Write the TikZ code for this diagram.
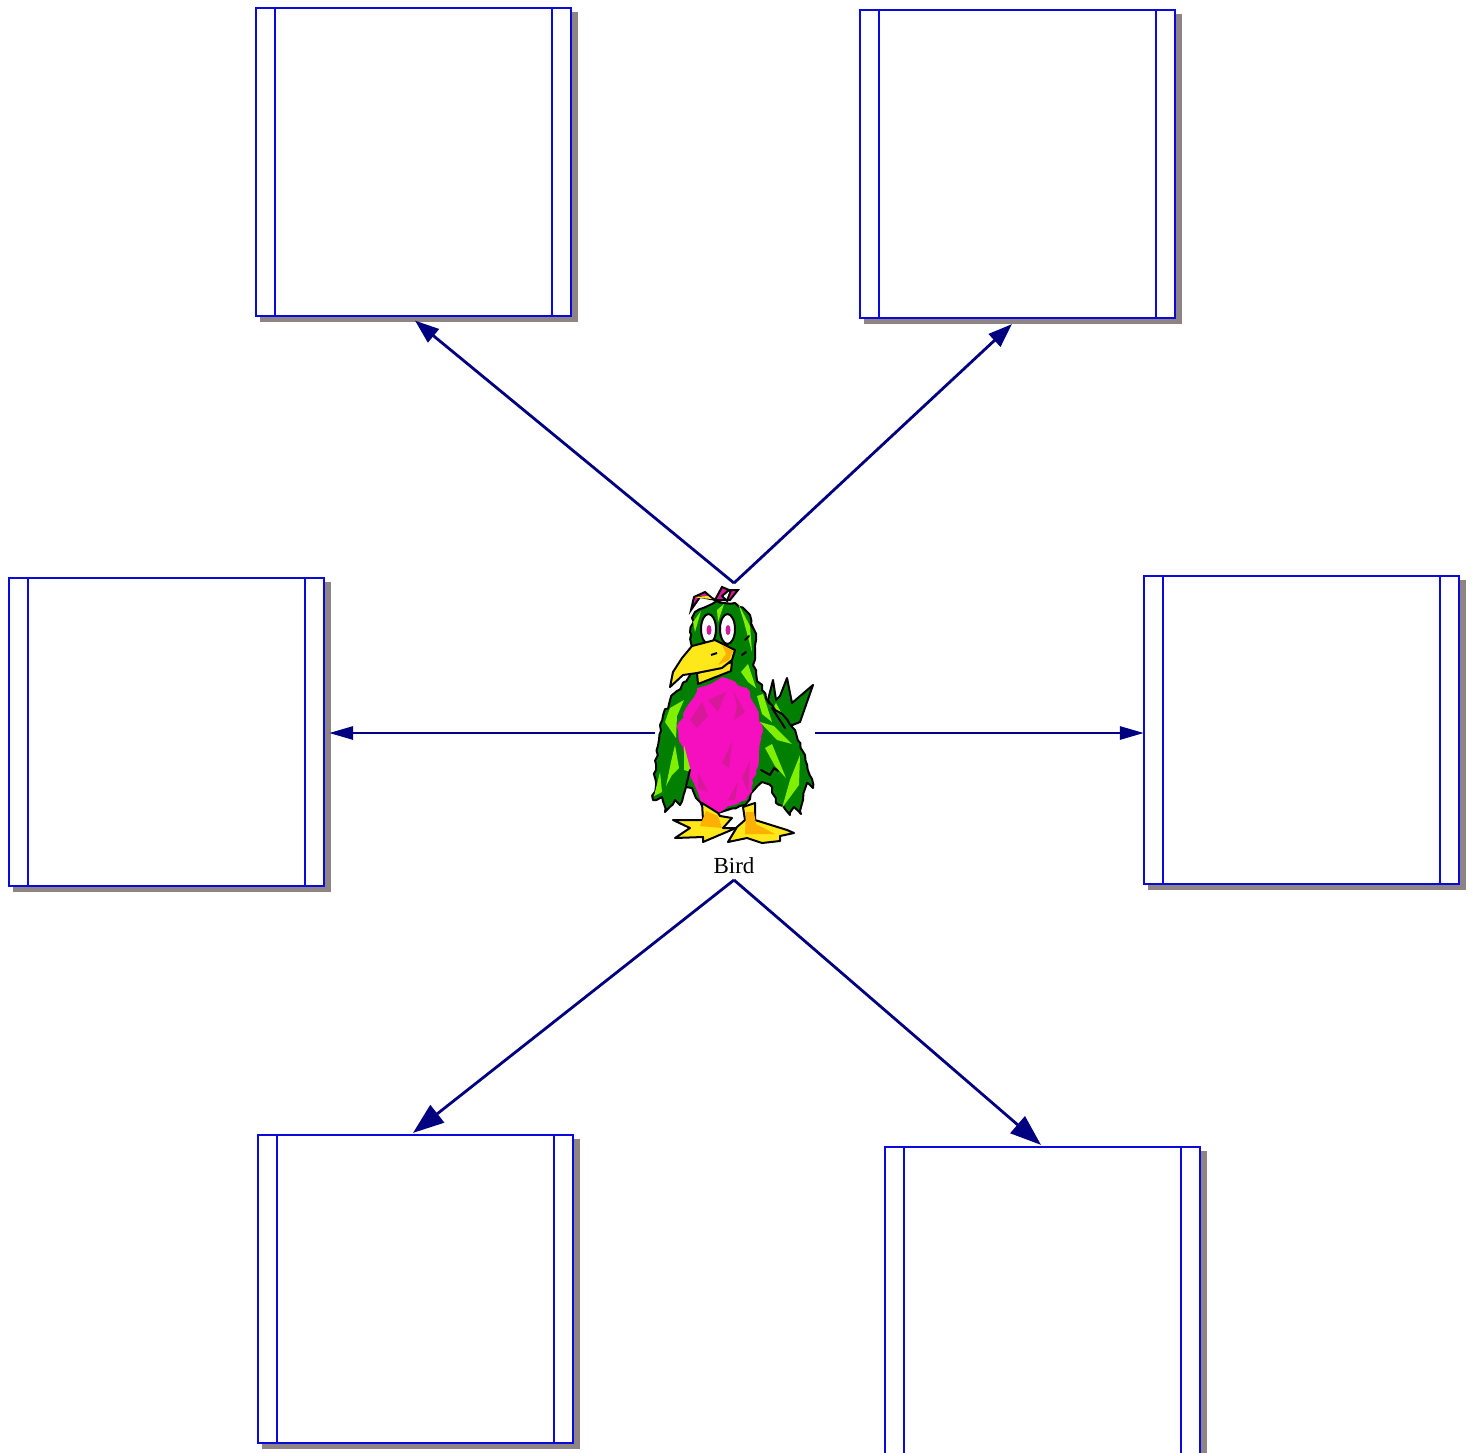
\documentclass[tikz,border=0pt]{standalone}
\usepackage{fontspec}
\setmainfont{Liberation Serif}
\usetikzlibrary{arrows.meta,shadows,decorations.pathmorphing}
\definecolor{boxblue}{HTML}{0A0ADC}
\definecolor{navyline}{HTML}{000080}
\definecolor{shadowgray}{HTML}{8E8484}
\definecolor{birdgreen}{HTML}{007F00}
\definecolor{birdlime}{HTML}{80F000}
\definecolor{birdpink}{HTML}{F50FBF}
\definecolor{birddeep}{HTML}{D8189A}
\definecolor{birdyellow}{HTML}{FFE81A}
\definecolor{birdorange}{HTML}{FFB000}
\tikzset{
  x=.5pt,y=-.5pt,
  framebox/.style={draw=boxblue,fill=white,line width=1.1pt,inner sep=0pt,minimum width=157.5pt,minimum height=154pt,
    copy shadow={shadow xshift=2.75pt,shadow yshift=-2.5pt,fill=shadowgray,draw=shadowgray,opacity=1}},
  smalltip/.style={-{Triangle[length=12pt,width=8.5pt]}},
  sidetip/.style={-{Triangle[length=12pt,width=6.5pt]}},
  bigtip/.style={-{Triangle[length=15.5pt,width=11pt]}},
  link/.style={draw=navyline,line width=1.4pt,line join=miter},
  fur/.style={decorate,decoration={random steps,segment length=2.5pt,amplitude=.9pt}},
  birdline/.style={draw=black,line width=1pt,line join=round},
  inner/.style={draw=boxblue,line width=1.1pt},
  ink/.style={draw=black,line width=1pt,line cap=round},
}
\begin{document}
\begin{tikzpicture}
\useasboundingbox (0,0) rectangle (1473,1452);
\clip (0,0) rectangle (1473,1452);
% boxes
\node[framebox] (a) at (413.5,162) {};
\node[framebox] (b) at (1017.5,164) {};
\node[framebox] (c) at (166.5,732) {};
\node[framebox] (d) at (1301.5,730) {};
\node[framebox] (e) at (415.5,1289) {};
\node[framebox] (f) at (1042.5,1301) {};
\foreach \n in {a,b,c,d,e,f}{
  \draw[inner] ([xshift=10pt]\n.north west) -- ([xshift=10pt]\n.south west);
  \draw[inner] ([xshift=-10pt]\n.north east) -- ([xshift=-10pt]\n.south east);
}
% connector ends
\coordinate (birdtop) at (734,583);
\coordinate (birdleft) at (655,733);
\coordinate (birdright) at (815,733);
\coordinate (birdbottom) at (734,880);
\draw[link,smalltip] (birdtop) -- ([shift={(1.5,3.5)}]a.south);
\draw[link,smalltip] (birdtop) -- ([shift={(-5.5,5)}]b.south);
\draw[link,sidetip] (birdleft) -- ([shift={(4,1)}]c.east);
\draw[link,sidetip] (birdright) -- ([shift={(1,3)}]d.west);
\draw[link,bigtip] (birdbottom) -- ([shift={(-2.5,-1)}]e.north);
\draw[link,bigtip] (birdbottom) -- ([shift={(-1.5,-1)}]f.north);
% tail
\path[birdline,fill=birdgreen] (768,700) -- (773,680) -- (776,700) -- (780,696) -- (787,678) -- (792,703) -- (813,685) -- (800,722) -- (785,728) -- cycle;
\fill[birdlime] (771,712) -- (776,703) -- (783,716) -- cycle;
% silhouette: head, wings
\path[birdline,fill=birdgreen,fur] (717,601) -- (735,603) -- (750,615) -- (756,640) -- (753,665) -- (762,690) -- (772,705) -- (795,730) -- (805,755) -- (813,788) -- (807,783) -- (803,800) -- (801,814) -- (794,807) -- (790,815) -- (783,806) -- (776,803) -- (772,787) -- (762,782) -- (754,790) -- (745,805) -- (717,813) -- (702,806) -- (692,788) -- (686,787) -- (680,805) -- (675,800) -- (665,812) -- (662,797) -- (653,800) -- (656,770) -- (660,725) -- (670,700) -- (690,675) -- (692,650) -- (690,632) -- (695,612) -- cycle;
% pink belly
\path[fill=birdpink,fur] (697,688) -- (722,677) -- (747,688) -- (762,725) -- (759,760) -- (753,783) -- (747,800) -- (717,813) -- (700,800) -- (692,780) -- (683,750) -- (677,727) -- cycle;
\fill[birddeep]
  (690,720) -- (702,702) -- (708,716) -- (697,728) -- cycle
  (733,690) -- (745,712) -- (734,720) -- (737,706) -- cycle
  (722,763) -- (732,742) -- (729,768) -- cycle
  (708,700) -- (726,692) -- (718,712) -- cycle
  (742,778) -- (750,760) -- (748,792) -- cycle
  (698,772) -- (708,792) -- (698,788) -- cycle
  (728,800) -- (738,782) -- (735,800) -- cycle;
% lime highlights
\fill[birdlime]
  (665,722) -- (670,708) -- (684,700) -- (677,716) -- (676,738) -- cycle
  (666,786) -- (671,762) -- (675,745) -- (679,768) -- (672,775) -- cycle
  (684,745) -- (691,772) -- (684,770) -- cycle
  (654,796) -- (660,772) -- (662,792) -- cycle
  (765,748) -- (772,744) -- (786,778) -- (775,766) -- cycle
  (782,808) -- (790,780) -- (800,755) -- (799,785) -- cycle
  (760,722) -- (774,726) -- (792,744) -- (777,740) -- cycle
  (738,603) -- (750,626) -- (752,652) -- (744,622) -- cycle
  (717,610) -- (724,604) -- (718,622) -- cycle
  (693,622) -- (701,611) -- (695,632) -- cycle
  (741,672) -- (748,664) -- (756,688) -- (748,682) -- cycle
  (757,696) -- (763,694) -- (772,722) -- (762,714) -- cycle;
% dark detail strokes
\draw[ink] (745,640) -- (749,636) (751,625) -- (753,628) (742,655) -- (746,652);
\draw[ink] (761,770) -- (770,775) -- (774,768) -- (778,771);
\draw[ink] (686,786) -- (690,770);
\draw[ink] (772,708) -- (785,728);
% crest
\path[draw=black,line width=1pt,fill=birddeep] (691,610) -- (694,597) -- (705,592) -- (712,598) -- (716,600) -- (700,597) -- cycle;
\fill[birdyellow] (695,597) -- (708,596) -- (712,599) -- (699,598) -- cycle;
\path[draw=black,line width=1pt,fill=birddeep] (715,600) -- (722,587) -- (729,590) -- (722,596) -- (727,601) -- (731,590) -- (738,590) -- (730,600) -- (722,600) -- cycle;
% eyes
\draw[black,line width=1pt,fill=white] (708.5,629) ellipse [x radius=7.5,y radius=15];
\draw[black,line width=1pt,fill=white] (727.5,629) ellipse [x radius=7.5,y radius=15];
\fill[birddeep] (709,630) ellipse [x radius=2.5,y radius=5];
\fill[birddeep] (728,630) ellipse [x radius=2.5,y radius=5];
% beak
\path[birdline,fill=birdyellow] (697,673) -- (732,662) -- (731,671) -- (698,684) -- cycle;
\path[birdline,fill=birdyellow] (670,687) -- (673,672) -- (682,658) -- (692,646) -- (715,640) -- (735,650) -- (732,660) -- (722,668) -- (697,673) -- (683,675) -- cycle;
\fill[birdorange] (722,645) -- (733,651) -- (729,660) -- (718,665) -- (726,654) -- cycle;
\draw[black,line width=1pt] (711,655) -- (717,653);
% feet
\path[birdline,fill=birdyellow] (702,803) -- (718,813) -- (720,816) -- (732,818) -- (723,828) -- (736,828) -- (703,842) -- (703,837) -- (675,838) -- (690,828) -- (673,820) -- (703,820) -- cycle;
\fill[birdorange] (706,811) -- (718,816) -- (722,828) -- (700,826) -- cycle;
\path[birdline,fill=birdyellow] (743,807) -- (755,803) -- (755,820) -- (787,830) -- (794,833) -- (780,836) -- (780,841) -- (762,843) -- (747,838) -- (728,842) -- (737,827) -- (745,820) -- cycle;
\fill[birdorange] (746,812) -- (754,812) -- (756,824) -- (775,834) -- (745,834) -- cycle;
% label
\node[font=\fontsize{11.5pt}{13pt}\selectfont,inner sep=0pt] (bird) at (734,866) {Bird};
\end{tikzpicture}
\end{document}
